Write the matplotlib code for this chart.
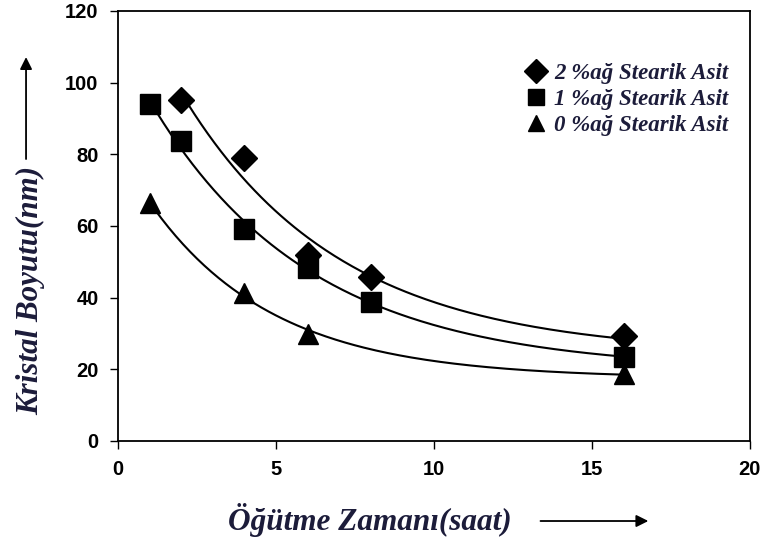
import numpy as np
import matplotlib.pyplot as plt
from matplotlib.patches import FancyArrowPatch

# veri
x_d = [2, 4, 6, 8, 16]
y_d = [95.2, 79.0, 52.0, 45.8, 29.3]
x_s = [1, 2, 4, 6, 8, 16]
y_s = [94.0, 83.7, 59.2, 48.3, 38.8, 23.4]
x_t = [1, 4, 6, 16]
y_t = [66.4, 41.3, 29.9, 18.7]
labels = ['2 %ağ Stearik Asit', '1 %ağ Stearik Asit', '0 %ağ Stearik Asit']

serif = 'Liberation Serif'
txtcol = '#1c1c3a'


def exp_fit(xs, ys):
    # y = a*exp(-b*x) + c, b taranarak en kucuk kareler
    xs = np.asarray(xs, float)
    ys = np.asarray(ys, float)
    best = None
    for b in np.linspace(0.02, 1.5, 500):
        A = np.column_stack([np.exp(-b * xs), np.ones_like(xs)])
        coef, *_ = np.linalg.lstsq(A, ys, rcond=None)
        r = np.sum((A @ coef - ys) ** 2)
        if best is None or r < best[0]:
            best = (r, b, coef)
    _, b, (a, c) = best
    return lambda x: a * np.exp(-b * x) + c


fig = plt.figure(figsize=(7.66, 5.43), dpi=100)
ax = fig.add_axes([0.154, 0.188, 0.825, 0.792])

for xs, ys in [(x_d, y_d), (x_s, y_s), (x_t, y_t)]:
    f = exp_fit(xs, ys)
    xx = np.linspace(min(xs), max(xs), 200)
    ax.plot(xx, f(xx), color='black', lw=1.5, zorder=2)

ax.plot(x_d, y_d, 'D', color='black', ms=13, ls='none', label=labels[0], zorder=3)
ax.plot(x_s, y_s, 's', color='black', ms=14, ls='none', label=labels[1], zorder=3)
ax.plot(x_t, y_t, '^', color='black', ms=14, ls='none', label=labels[2], zorder=3)

ax.set_xlim(0, 20)
ax.set_ylim(0, 120)
ax.set_xticks([0, 5, 10, 15, 20])
ax.set_yticks(range(0, 121, 20))
ax.tick_params(direction='out', length=6, width=1, labelsize=14.5, pad=8)
for lab in ax.get_xticklabels() + ax.get_yticklabels():
    lab.set_fontweight('bold')
    lab.set_fontfamily('Liberation Sans')
for s in ax.spines.values():
    s.set_linewidth(1.3)

leg = ax.legend(loc='upper right', bbox_to_anchor=(0.991, 0.915), frameon=False,
                handletextpad=0.2, labelspacing=0.2, handlelength=1.2,
                borderpad=0.2,
                prop={'family': serif, 'style': 'italic', 'weight': 'bold', 'size': 16.5})
for t in leg.get_texts():
    t.set_color(txtcol)
for h in leg.legend_handles:
    h.set_markersize(12)

# eksen basliklari ve oklar
fig.text(0.483, 0.024, 'Öğütme Zamanı(saat)', family=serif, style='italic',
         weight='bold', size=22.5, color=txtcol, ha='center', va='baseline')
fig.text(0.04, 0.466, 'Kristal Boyutu(nm)', family=serif, style='italic',
         weight='bold', size=22.3, color=txtcol, ha='center', va='center', rotation=90)
fig.add_artist(FancyArrowPatch(
    (0.702, 0.0405), (0.85, 0.0405), transform=fig.transFigure,
    arrowstyle='-|>', mutation_scale=18, color='black', lw=1.3))
fig.add_artist(FancyArrowPatch(
    (0.034, 0.702), (0.034, 0.9), transform=fig.transFigure,
    arrowstyle='-|>', mutation_scale=18, color='black', lw=1.3))

fig.savefig('out.png', dpi=100)
